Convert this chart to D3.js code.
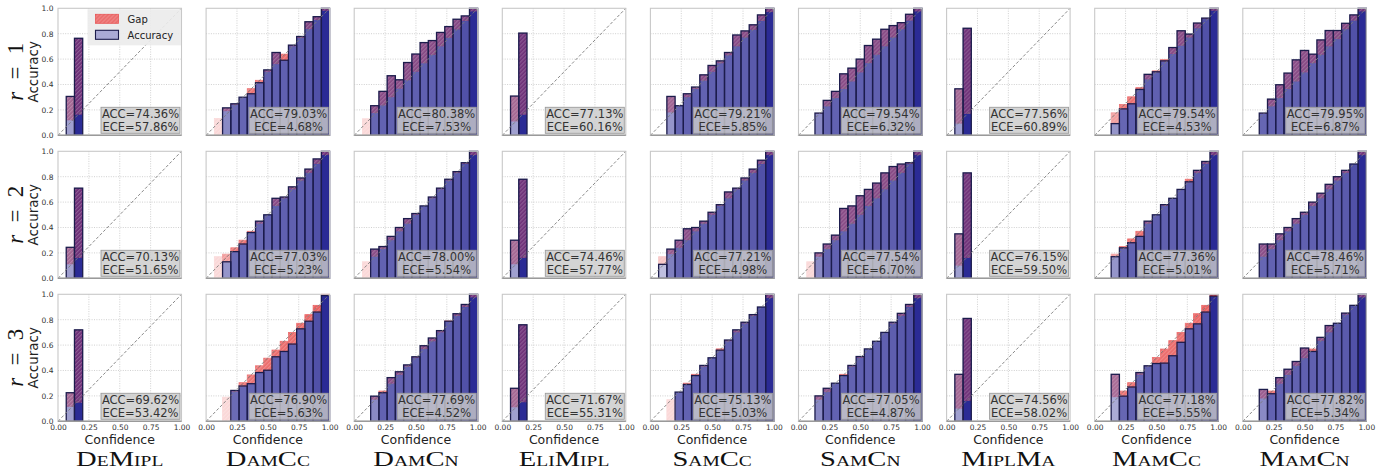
<!DOCTYPE html>
<html>
<head>
<meta charset="utf-8">
<script src="https://cdn.jsdelivr.net/npm/d3@7"></script>
<style>
  body { margin: 0; background: #fff; }
</style>
</head>
<body>
<div id="chart-container"></div>
<script>
/**************************************************
 * Data
 **************************************************/
const _ = null;
const methods = ["DeMipl", "DamCc", "DamCn", "EliMipl", "SamCc", "SamCn", "MiplMa", "MamCc", "MamCn"];
const rowLabels = ["1", "2", "3"];
const xTicks = [0, 0.25, 0.5, 0.75, 1];
const yTicks = [0, 0.2, 0.4, 0.6, 0.8, 1];

const accText = [
  ["74.36", "79.03", "80.38", "77.13", "79.21", "79.54", "77.56", "79.54", "79.95"],
  ["70.13", "77.03", "78.00", "74.46", "77.21", "77.54", "76.15", "77.36", "78.46"],
  ["69.62", "76.90", "77.69", "71.67", "75.13", "77.05", "74.56", "77.18", "77.82"]
];
const eceText = [
  ["57.86", "4.68", "7.53", "60.16", "5.85", "6.32", "60.89", "4.53", "6.87"],
  ["51.65", "5.23", "5.54", "57.77", "4.98", "6.70", "59.50", "5.01", "5.71"],
  ["53.42", "5.63", "4.52", "55.31", "5.03", "4.87", "58.02", "5.55", "5.34"]
];

// per-bin accuracy (15 bins of width 1/15), one list per method
const accR1 = [
  [_, 0.306, 0.764, _, _, _, _, _, _, _, _, _, _, _, _],
  [_, 0, 0.216, 0.248, 0.30, 0.327, 0.414, 0.515, 0.652, 0.591, 0.71, 0.778, 0.894, 0.934, 1.0],
  [_, 0, 0.233, 0.346, 0.469, 0.437, 0.573, 0.64, 0.73, 0.746, 0.81, 0.856, 0.914, 0.94, 1.0],
  [_, 0.309, 0.805, _, _, _, _, _, _, _, _, _, _, _, _],
  [_, _, 0.306, 0.233, 0.327, 0.38, 0.476, 0.55, 0.586, 0.652, 0.79, 0.822, 0.87, 0.948, 1.0],
  [_, _, 0.175, 0.275, 0.346, 0.484, 0.529, 0.60, 0.707, 0.757, 0.835, 0.864, 0.887, 0.953, 1.0],
  [_, 0.366, 0.843, _, _, _, _, _, _, _, _, _, _, _, _],
  [_, _, 0.092, 0.208, 0.248, 0.361, 0.48, 0.50, 0.586, 0.691, 0.823, 0.797, 0.884, 0.923, 1.0],
  [_, _, 0.175, 0.285, 0.398, 0.49, 0.594, 0.668, 0.639, 0.751, 0.825, 0.825, 0.882, 0.948, 1.0]
];
const accR2 = [
  [_, 0.244, 0.71, _, _, _, _, _, _, _, _, _, _, _, _],
  [_, 0, 0.13, 0.21, 0.27, 0.36, 0.45, 0.50, 0.63, 0.64, 0.72, 0.79, 0.86, 0.94, 1.0],
  [_, 0, 0.23, 0.25, 0.33, 0.40, 0.47, 0.51, 0.57, 0.64, 0.71, 0.78, 0.84, 0.91, 1.0],
  [_, 0.30, 0.78, _, _, _, _, _, _, _, _, _, _, _, _],
  [_, 0.11, 0.23, 0.30, 0.39, 0.40, 0.45, 0.52, 0.58, 0.68, 0.71, 0.79, 0.86, 0.93, 1.0],
  [_, 0, 0.20, 0.27, 0.34, 0.55, 0.57, 0.65, 0.70, 0.75, 0.83, 0.88, 0.90, 0.91, 1.0],
  [_, 0.35, 0.83, _, _, _, _, _, _, _, _, _, _, _, _],
  [_, _, 0.17, 0.24, 0.28, 0.33, 0.45, 0.50, 0.58, 0.63, 0.70, 0.76, 0.85, 0.92, 1.0],
  [_, _, 0.27, 0.27, 0.35, 0.40, 0.47, 0.52, 0.60, 0.67, 0.74, 0.80, 0.85, 0.90, 1.0]
];
const accR3 = [
  [_, 0.225, 0.72, _, _, _, _, _, _, _, _, _, _, _, _],
  [_, _, 0, 0.243, 0.278, 0.296, 0.384, 0.402, 0.508, 0.55, 0.608, 0.728, 0.788, 0.86, 0.99],
  [_, _, 0.198, 0.225, 0.344, 0.39, 0.444, 0.508, 0.595, 0.656, 0.714, 0.788, 0.847, 0.92, 1.0],
  [_, 0.26, 0.76, _, _, _, _, _, _, _, _, _, _, _, _],
  [_, _, 0, 0.23, 0.29, 0.36, 0.44, 0.50, 0.56, 0.64, 0.72, 0.78, 0.84, 0.90, 1.0],
  [_, _, 0.20, 0.26, 0.30, 0.36, 0.44, 0.51, 0.57, 0.63, 0.70, 0.78, 0.85, 0.92, 1.0],
  [_, 0.37, 0.81, _, _, _, _, _, _, _, _, _, _, _, _],
  [_, _, 0.37, 0.198, 0.27, 0.384, 0.437, 0.455, 0.458, 0.516, 0.622, 0.728, 0.767, 0.86, 0.985],
  [_, _, 0.251, 0.217, 0.344, 0.41, 0.471, 0.577, 0.55, 0.661, 0.754, 0.772, 0.852, 0.913, 1.0]
];

// per-bin mean confidence
const confR1 = [
  [_, 0.118, 0.162, _, _, _, _, _, _, _, _, _, _, _, _],
  [_, 0.132, 0.19, 0.24, 0.30, 0.367, 0.433, 0.50, 0.56, 0.639, 0.70, 0.767, 0.836, 0.908, 0.98],
  [_, 0.13, 0.175, 0.235, 0.30, 0.367, 0.433, 0.50, 0.567, 0.633, 0.70, 0.767, 0.833, 0.90, 0.975],
  [_, 0.109, 0.161, _, _, _, _, _, _, _, _, _, _, _, _],
  [_, _, 0.18, 0.235, 0.30, 0.364, 0.43, 0.50, 0.567, 0.63, 0.70, 0.77, 0.83, 0.90, 0.97],
  [_, _, 0.17, 0.228, 0.293, 0.364, 0.424, 0.495, 0.568, 0.634, 0.70, 0.77, 0.835, 0.903, 0.975],
  [_, 0.092, 0.168, _, _, _, _, _, _, _, _, _, _, _, _],
  [_, _, 0.177, 0.243, 0.303, 0.375, 0.44, 0.507, 0.595, 0.64, 0.705, 0.77, 0.842, 0.915, 0.98],
  [_, _, 0.17, 0.228, 0.293, 0.364, 0.424, 0.495, 0.568, 0.634, 0.70, 0.757, 0.835, 0.903, 0.975]
];
const confR2 = [
  [_, 0.11, 0.16, _, _, _, _, _, _, _, _, _, _, _, _],
  [_, 0.17, 0.19, 0.24, 0.30, 0.37, 0.43, 0.50, 0.57, 0.63, 0.70, 0.77, 0.83, 0.90, 0.97],
  [_, 0.13, 0.17, 0.23, 0.30, 0.37, 0.43, 0.50, 0.57, 0.63, 0.70, 0.77, 0.83, 0.90, 0.97],
  [_, 0.11, 0.16, _, _, _, _, _, _, _, _, _, _, _, _],
  [_, 0.17, 0.19, 0.24, 0.30, 0.37, 0.43, 0.50, 0.57, 0.63, 0.70, 0.77, 0.83, 0.90, 0.97],
  [_, 0.13, 0.17, 0.23, 0.30, 0.37, 0.43, 0.50, 0.57, 0.63, 0.70, 0.77, 0.83, 0.90, 0.97],
  [_, 0.10, 0.16, _, _, _, _, _, _, _, _, _, _, _, _],
  [_, _, 0.19, 0.25, 0.31, 0.37, 0.43, 0.50, 0.57, 0.63, 0.70, 0.78, 0.83, 0.90, 0.97],
  [_, _, 0.17, 0.23, 0.30, 0.37, 0.43, 0.50, 0.57, 0.63, 0.70, 0.77, 0.83, 0.90, 0.97]
];
const confR3 = [
  [_, 0.114, 0.146, _, _, _, _, _, _, _, _, _, _, _, _],
  [_, _, 0.19, 0.233, 0.304, 0.365, 0.437, 0.497, 0.561, 0.63, 0.70, 0.772, 0.84, 0.913, 1.0],
  [_, _, 0.17, 0.238, 0.296, 0.365, 0.43, 0.50, 0.569, 0.63, 0.70, 0.79, 0.83, 0.90, 0.975],
  [_, 0.11, 0.15, _, _, _, _, _, _, _, _, _, _, _, _],
  [_, _, 0.17, 0.23, 0.30, 0.37, 0.43, 0.50, 0.57, 0.63, 0.70, 0.77, 0.83, 0.90, 0.97],
  [_, _, 0.17, 0.23, 0.30, 0.37, 0.43, 0.50, 0.57, 0.63, 0.70, 0.77, 0.83, 0.90, 0.97],
  [_, 0.10, 0.16, _, _, _, _, _, _, _, _, _, _, _, _],
  [_, _, 0.19, 0.238, 0.304, 0.365, 0.433, 0.503, 0.569, 0.635, 0.70, 0.772, 0.847, 0.913, 0.995],
  [_, _, 0.18, 0.238, 0.296, 0.365, 0.437, 0.497, 0.569, 0.634, 0.70, 0.77, 0.84, 0.91, 0.975]
];

// per-bin opacity (follows bin sample count)
const alphaR1 = [
  [_, 0.45, 1, _, _, _, _, _, _, _, _, _, _, _, _],
  [_, 0.2, 0.55, 0.7, 0.72, 0.72, 0.72, 0.74, 0.75, 0.75, 0.75, 0.76, 0.78, 0.82, 1],
  [_, 0.2, 0.72, 0.74, 0.74, 0.74, 0.74, 0.75, 0.75, 0.75, 0.75, 0.76, 0.78, 0.82, 1],
  [_, 0.45, 1, _, _, _, _, _, _, _, _, _, _, _, _],
  [_, _, 0.5, 0.72, 0.74, 0.74, 0.74, 0.75, 0.75, 0.75, 0.75, 0.76, 0.78, 0.82, 1],
  [_, _, 0.55, 0.72, 0.74, 0.74, 0.74, 0.75, 0.75, 0.75, 0.75, 0.76, 0.78, 0.82, 1],
  [_, 0.45, 1, _, _, _, _, _, _, _, _, _, _, _, _],
  [_, _, 0.5, 0.72, 0.74, 0.74, 0.74, 0.75, 0.75, 0.75, 0.75, 0.76, 0.78, 0.82, 1],
  [_, _, 0.72, 0.74, 0.74, 0.74, 0.74, 0.75, 0.75, 0.75, 0.75, 0.76, 0.78, 0.82, 1]
];
const alphaR2 = [
  [_, 0.45, 1, _, _, _, _, _, _, _, _, _, _, _, _],
  [_, 0.2, 0.5, 0.7, 0.72, 0.72, 0.72, 0.74, 0.75, 0.75, 0.75, 0.76, 0.78, 0.82, 1],
  [_, 0.2, 0.72, 0.74, 0.74, 0.74, 0.74, 0.75, 0.75, 0.75, 0.75, 0.76, 0.78, 0.82, 1],
  [_, 0.45, 1, _, _, _, _, _, _, _, _, _, _, _, _],
  [_, 0.3, 0.6, 0.72, 0.74, 0.74, 0.74, 0.75, 0.75, 0.75, 0.75, 0.76, 0.78, 0.82, 1],
  [_, 0.2, 0.55, 0.72, 0.74, 0.74, 0.74, 0.75, 0.75, 0.75, 0.75, 0.76, 0.78, 0.82, 1],
  [_, 0.45, 1, _, _, _, _, _, _, _, _, _, _, _, _],
  [_, _, 0.5, 0.72, 0.74, 0.74, 0.74, 0.75, 0.75, 0.75, 0.75, 0.76, 0.78, 0.82, 1],
  [_, _, 0.72, 0.74, 0.74, 0.74, 0.74, 0.75, 0.75, 0.75, 0.75, 0.76, 0.78, 0.82, 1]
];
const alphaR3 = [
  [_, 0.45, 1, _, _, _, _, _, _, _, _, _, _, _, _],
  [_, _, 0.2, 0.7, 0.72, 0.72, 0.72, 0.74, 0.75, 0.75, 0.75, 0.76, 0.78, 0.82, 1],
  [_, _, 0.55, 0.74, 0.74, 0.74, 0.74, 0.75, 0.75, 0.75, 0.75, 0.76, 0.78, 0.82, 1],
  [_, 0.45, 1, _, _, _, _, _, _, _, _, _, _, _, _],
  [_, _, 0.2, 0.72, 0.74, 0.74, 0.74, 0.75, 0.75, 0.75, 0.75, 0.76, 0.78, 0.82, 1],
  [_, _, 0.55, 0.72, 0.74, 0.74, 0.74, 0.75, 0.75, 0.75, 0.75, 0.76, 0.78, 0.82, 1],
  [_, 0.45, 1, _, _, _, _, _, _, _, _, _, _, _, _],
  [_, _, 0.4, 0.72, 0.74, 0.74, 0.74, 0.75, 0.75, 0.75, 0.75, 0.76, 0.78, 0.82, 1],
  [_, _, 0.55, 0.74, 0.74, 0.74, 0.74, 0.75, 0.75, 0.75, 0.75, 0.76, 0.78, 0.82, 1]
];

const accRows = [accR1, accR2, accR3];
const confRows = [confR1, confR2, confR3];
const alphaRows = [alphaR1, alphaR2, alphaR3];

/**************************************************
 * Layout & style
 **************************************************/
const width = 1395, height = 475;
const left0 = 58, colStep = 148.1, plotW = 123.5;
const top0 = 8.3, rowStep = 143, plotH = 127;
const nBins = 15;
const sans = "DejaVu Sans, sans-serif";
const serif = "Liberation Serif, DejaVu Serif, serif";

const blueBase = "#2b2b95";
const redBase = "#e64646";
const purpleBase = "#a83a64";
const edgeColor = "#1c1c4c";
const blueFill = a => d3.interpolateRgb("#ffffff", blueBase)(a);
const redFill = a => d3.interpolateRgb("#ffffff", redBase)(Math.min(1, a * 1.05));
const purpleFill = a => d3.interpolateRgb(blueFill(a), purpleBase)(0.55);

/**************************************************
 * Rendering
 **************************************************/
const svg = d3.select("#chart-container")
  .append("svg")
  .attr("width", width)
  .attr("height", height)
  .style("font-family", sans);

svg.append("defs")
  .append("pattern")
  .attr("id", "hatch")
  .attr("patternUnits", "userSpaceOnUse")
  .attr("width", 4)
  .attr("height", 4)
  .append("path")
  .attr("d", "M-1,1 l2,-2 M0,4 l4,-4 M3,5 l2,-2")
  .attr("stroke", "#ffffff")
  .attr("stroke-opacity", 0.3)
  .attr("stroke-width", 0.9);

const x = d3.scaleLinear().domain([0, 1]).range([0, plotW]);
const y = d3.scaleLinear().domain([0, 1]).range([plotH, 0]);

function drawPanel(r, c) {
  const acc = accRows[r][c], conf = confRows[r][c], alpha = alphaRows[r][c];
  const g = svg.append("g")
    .attr("transform", `translate(${left0 + c * colStep},${top0 + r * rowStep})`);

  // grid
  g.selectAll("line.gx")
    .data(xTicks.slice(1, -1))
    .join("line")
    .attr("x1", d => x(d)).attr("x2", d => x(d))
    .attr("y1", 0).attr("y2", plotH)
    .attr("stroke", "#c4c4c4").attr("stroke-width", 0.8)
    .attr("stroke-dasharray", "1,1.4");
  g.selectAll("line.gy")
    .data(yTicks.slice(1, -1))
    .join("line")
    .attr("x1", 0).attr("x2", plotW)
    .attr("y1", d => y(d)).attr("y2", d => y(d))
    .attr("stroke", "#c4c4c4").attr("stroke-width", 0.8)
    .attr("stroke-dasharray", "1,1.4");

  const bins = d3.range(nBins)
    .map(i => ({ lo: i / nBins, hi: (i + 1) / nBins, acc: acc[i], conf: conf[i], a: alpha[i] }))
    .filter(d => d.acc !== null);

  // accuracy fill
  g.selectAll("rect.acc")
    .data(bins.filter(d => d.acc > 0))
    .join("rect")
    .attr("x", d => x(d.lo)).attr("width", d => x(d.hi) - x(d.lo))
    .attr("y", d => y(d.acc)).attr("height", d => y(0) - y(d.acc))
    .attr("fill", d => blueFill(d.a));

  // gap
  const gapBins = bins.filter(d => Math.abs(d.acc - d.conf) > 0.002);
  g.selectAll("rect.gap")
    .data(gapBins)
    .join("rect")
    .attr("x", d => x(d.lo)).attr("width", d => x(d.hi) - x(d.lo))
    .attr("y", d => y(Math.max(d.acc, d.conf)))
    .attr("height", d => y(Math.min(d.acc, d.conf)) - y(Math.max(d.acc, d.conf)))
    .attr("fill", d => d.acc > d.conf ? purpleFill(d.a) : redFill(d.a))
    .attr("stroke", d => d.acc > d.conf ? "none" : redFill(d.a))
    .attr("stroke-width", 0.8);
  g.selectAll("rect.hatch")
    .data(gapBins)
    .join("rect")
    .attr("x", d => x(d.lo)).attr("width", d => x(d.hi) - x(d.lo))
    .attr("y", d => y(Math.max(d.acc, d.conf)))
    .attr("height", d => y(Math.min(d.acc, d.conf)) - y(Math.max(d.acc, d.conf)))
    .attr("fill", "url(#hatch)");

  // accuracy outline
  g.selectAll("rect.edge")
    .data(bins.filter(d => d.acc > 0))
    .join("rect")
    .attr("x", d => x(d.lo)).attr("width", d => x(d.hi) - x(d.lo))
    .attr("y", d => y(d.acc)).attr("height", d => y(0) - y(d.acc))
    .attr("fill", "none")
    .attr("stroke", edgeColor).attr("stroke-width", 1.3);

  // diagonal
  g.append("line")
    .attr("x1", x(0)).attr("y1", y(0)).attr("x2", x(1)).attr("y2", y(1))
    .attr("stroke", "#7a7a7a").attr("stroke-width", 0.9)
    .attr("stroke-dasharray", "3,2");

  // frame
  g.append("rect")
    .attr("width", plotW).attr("height", plotH)
    .attr("fill", "none").attr("stroke", "#c8c8c8").attr("stroke-width", 1.1);
  g.append("line")
    .attr("x1", 0).attr("x2", plotW).attr("y1", plotH).attr("y2", plotH)
    .attr("stroke", "#9a9a9a").attr("stroke-width", 1.6);

  // ACC / ECE box
  const bw = 79, bh = 26;
  const bx = plotW - 1.5 - bw, by = plotH - 2 - bh;
  g.append("rect")
    .attr("x", bx).attr("y", by).attr("width", bw).attr("height", bh)
    .attr("fill", "#cbcbcb").attr("fill-opacity", 0.82)
    .attr("stroke", "#9c9c9c").attr("stroke-width", 0.9);
  g.append("text")
    .attr("x", bx + bw / 2).attr("y", by + 7)
    .attr("text-anchor", "middle").attr("dominant-baseline", "central")
    .attr("font-size", "11.5px").attr("fill", "#333")
    .text(`ACC=${accText[r][c]}%`);
  g.append("text")
    .attr("x", bx + bw / 2).attr("y", by + 19.4)
    .attr("text-anchor", "middle").attr("dominant-baseline", "central")
    .attr("font-size", "11.5px").attr("fill", "#333")
    .text(`ECE=${eceText[r][c]}%`);

  // axes (labels only)
  if (c === 0) {
    const ya = g.append("g").call(d3.axisLeft(y).tickValues(yTicks).tickFormat(d3.format(".1f")).tickSize(0).tickPadding(4.5));
    ya.select(".domain").remove();
    ya.selectAll("text").attr("font-size", "7.5px").attr("fill", "#333").style("font-family", sans);
    g.append("text")
      .attr("transform", `translate(-25,${plotH / 2}) rotate(-90)`)
      .attr("text-anchor", "middle").attr("dominant-baseline", "central")
      .attr("font-size", "13.5px").attr("fill", "#222")
      .text("Accuracy");
    const lab = g.append("text")
      .attr("transform", `translate(-43,${plotH / 2}) rotate(-90)`)
      .attr("text-anchor", "middle").attr("dominant-baseline", "central")
      .style("font-family", serif)
      .attr("font-size", "23px").attr("fill", "#111")
      .attr("textLength", 58).attr("lengthAdjust", "spacing");
    lab.append("tspan").attr("font-style", "italic").text("r");
    lab.append("tspan").text(" = " + rowLabels[r]);
  }
  if (r === 2) {
    const xa = g.append("g").attr("transform", `translate(0,${plotH})`)
      .call(d3.axisBottom(x).tickValues(xTicks).tickFormat(d3.format(".2f")).tickSize(0).tickPadding(3.5));
    xa.select(".domain").remove();
    xa.selectAll("text").attr("font-size", "7.5px").attr("fill", "#333").style("font-family", sans);
    g.append("text")
      .attr("x", plotW / 2).attr("y", plotH + 22.5)
      .attr("text-anchor", "middle")
      .attr("font-size", "12.5px").attr("fill", "#222")
      .text("Confidence");
    const title = g.append("text")
      .attr("x", plotW / 2).attr("y", plotH + 44.5)
      .attr("text-anchor", "middle")
      .style("font-family", serif)
      .style("font-variant", "small-caps")
      .attr("font-size", "22px").attr("fill", "#111")
      .text(methods[c]);
    const natural = title.node().getComputedTextLength();
    title.attr("textLength", natural * 1.3).attr("lengthAdjust", "spacingAndGlyphs");
  }

  // legend in first panel
  if (r === 0 && c === 0) {
    const lg = g.append("g").attr("transform", `translate(${plotW - 94},1)`);
    lg.append("rect").attr("width", 93.5).attr("height", 36)
      .attr("fill", "#ebebeb").attr("fill-opacity", 0.9);
    lg.append("rect").attr("x", 8).attr("y", 5).attr("width", 23).attr("height", 9)
      .attr("fill", redFill(0.75)).attr("stroke", redFill(0.9)).attr("stroke-width", 0.8);
    lg.append("rect").attr("x", 8).attr("y", 5).attr("width", 23).attr("height", 9)
      .attr("fill", "url(#hatch)");
    lg.append("rect").attr("x", 8).attr("y", 21).attr("width", 23).attr("height", 9)
      .attr("fill", blueFill(0.4)).attr("stroke", edgeColor).attr("stroke-width", 1.1);
    lg.append("text").attr("x", 40).attr("y", 10).attr("dominant-baseline", "central")
      .attr("font-size", "10px").attr("fill", "#222").text("Gap");
    lg.append("text").attr("x", 40).attr("y", 26).attr("dominant-baseline", "central")
      .attr("font-size", "10px").attr("fill", "#222").text("Accuracy");
  }
}

for (let r = 0; r < 3; r++) {
  for (let c = 0; c < methods.length; c++) drawPanel(r, c);
}
</script>
</body>
</html>
